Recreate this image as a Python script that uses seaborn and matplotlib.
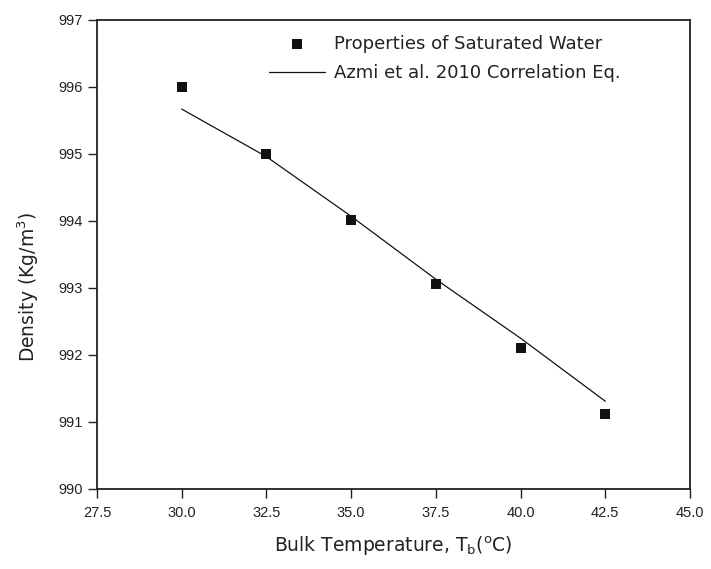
import matplotlib

matplotlib.use('Agg')
import matplotlib.pyplot as plt
import seaborn as sns
import pandas as pd

# data
temp_c = [30.0, 32.5, 35.0, 37.5, 40.0, 42.5]
density_water = [996.00, 995.00, 994.01, 993.06, 992.11, 991.12]
density_corr = [995.67, 994.96, 994.07, 993.13, 992.25, 991.31]

x_ticks = [27.5, 30.0, 32.5, 35.0, 37.5, 40.0, 42.5, 45.0]
y_ticks = [990, 991, 992, 993, 994, 995, 996, 997]

df = pd.DataFrame({'T': temp_c, 'rho': density_water, 'corr': density_corr})

sns.set_style('white')
plt.rcParams['font.family'] = ['Liberation Sans', 'DejaVu Sans']
plt.rcParams['mathtext.fontset'] = 'custom'
plt.rcParams['mathtext.rm'] = 'DejaVu Sans'

fig = plt.figure(figsize=(7.11, 5.69), dpi=100)
ax = fig.add_axes([0.1364, 0.1406, 0.8341, 0.8243])

sns.scatterplot(data=df, x='T', y='rho', marker='s', s=45, color='#111111',
                edgecolor='#111111', linewidth=0, ax=ax,
                label='Properties of Saturated Water', zorder=3)
sns.lineplot(data=df, x='T', y='corr', color='#111111', linewidth=0.9, ax=ax,
             label='Azmi et al. 2010 Correlation Eq.')

ax.set_xlim(27.5, 45.0)
ax.set_ylim(990, 997)
ax.set_xticks(x_ticks)
ax.set_xticklabels([f'{v:.1f}' for v in x_ticks])
ax.set_yticks(y_ticks)
ax.set_yticklabels([str(v) for v in y_ticks])

for side in ['left', 'bottom', 'top', 'right']:
    ax.spines[side].set_visible(True)
    ax.spines[side].set_color('#222222')
    ax.spines[side].set_linewidth(1.3)

ax.tick_params(axis='both', which='major', direction='out', length=6.5, width=1.0,
               color='#222222', labelsize=10.5, labelcolor='#222222',
               bottom=True, left=True, top=False, right=False)
ax.tick_params(axis='x', pad=6)
ax.tick_params(axis='y', pad=4)

ax.set_xlabel(r'Bulk Temperature, T$_\mathregular{b}$($^\mathregular{o}$C)',
              fontsize=13.5, color='#222222', family='DejaVu Sans', labelpad=10)
ax.set_ylabel(r'Density (Kg/m$^\mathregular{3}$)', fontsize=13.5, color='#222222',
              family='DejaVu Sans')
ax.yaxis.set_label_coords(-0.094, 0.43)

leg = ax.legend(loc='upper left', bbox_to_anchor=(0.29, 0.968), frameon=False,
                prop={'family': 'DejaVu Sans', 'size': 13}, handlelength=3.1,
                handletextpad=0.5, labelspacing=0.62, borderpad=0, borderaxespad=0)
for t in leg.get_texts():
    t.set_color('#222222')

plt.savefig('out.png', dpi=100)
plt.close(fig)
